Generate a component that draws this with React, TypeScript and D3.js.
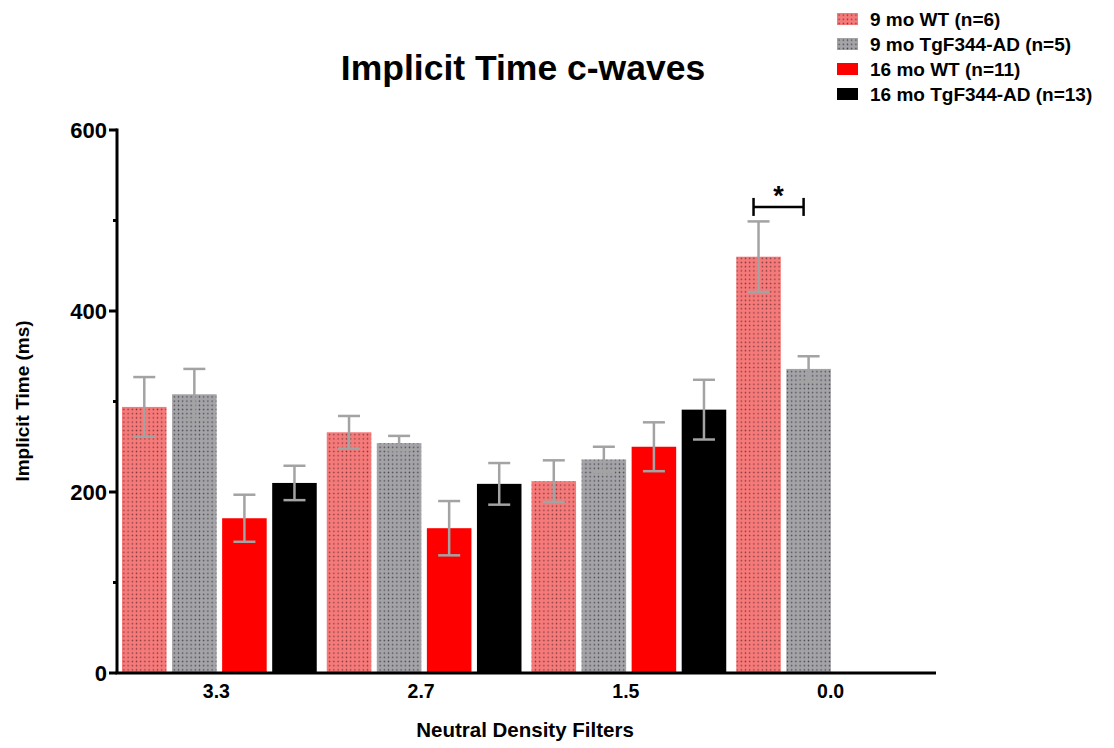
import React from "react";
import * as d3 from "d3";

const categories = ["3.3", "2.7", "1.5", "0.0"];
const seriesNames = [
  "9 mo WT (n=6)",
  "9 mo TgF344-AD (n=5)",
  "16 mo WT (n=11)",
  "16 mo TgF344-AD (n=13)",
];
const means: (number | null)[][] = [
  [294, 266, 212, 460],
  [308, 254, 236, 336],
  [171, 160, 250, null],
  [210, 209, 291, null],
];
const sems: (number | null)[][] = [
  [33, 18, 23, 39],
  [28, 8, 14, 14],
  [26, 30, 27, null],
  [19, 23, 33, null],
];
const yTicks = [0, 200, 400, 600];
const yMinorTicks = [100, 300, 500];
const sigBracket = { category: "0.0", from: 0, to: 1, y: 515, label: "*" };

const W = 1114;
const H = 748;
const FONT = "'Liberation Sans', Arial, Helvetica, sans-serif";

export default function App() {
  const x0 = d3.scaleBand<string>().domain(categories).range([117, 936]).paddingInner(0).paddingOuter(0);
  const x1 = d3
    .scaleBand<number>()
    .domain(d3.range(seriesNames.length))
    .range([0, x0.bandwidth()])
    .paddingInner(0.11)
    .paddingOuter(0.1);
  const y = d3.scaleLinear().domain([0, 600]).range([673, 130]);

  const fills = ["url(#pinkDots)", "url(#grayDots)", "#ff0000", "#000000"];
  const errColor = "#a3a3a3";
  const capHalf = 11;

  const bx = (ci: number, si: number) => (x0(categories[ci]) as number) + (x1(si) as number);

  const bracketX1 = bx(categories.indexOf(sigBracket.category), sigBracket.from) + x1.bandwidth() / 2 - 5;
  const bracketX2 = bx(categories.indexOf(sigBracket.category), sigBracket.to) + x1.bandwidth() / 2 - 5;

  return (
    <svg width={W} height={H} style={{ position: "absolute", left: 0, top: 0, background: "#fff" }} fontFamily={FONT}>
      <defs>
        <pattern id="pinkDots" width="4.2" height="4.2" patternUnits="userSpaceOnUse">
          <rect width="4.2" height="4.2" fill="#f67a7a" />
          <circle cx="2.1" cy="2.1" r="0.75" fill="#5a2a2a" opacity="0.8" />
        </pattern>
        <pattern id="grayDots" width="4.2" height="4.2" patternUnits="userSpaceOnUse">
          <rect width="4.2" height="4.2" fill="#a4a4a8" />
          <circle cx="2.1" cy="2.1" r="0.75" fill="#2e2e32" opacity="0.8" />
        </pattern>
      </defs>
      <rect width={W} height={H} fill="#fff" />

      {/* title */}
      <text x={523} y={80} textAnchor="middle" fontSize={35.5} fontWeight="bold" fill="#000">
        Implicit Time c-waves
      </text>

      {/* bars */}
      {means.map((row, si) =>
        row.map((v, ci) =>
          v == null ? null : (
            <rect
              key={`b${si}-${ci}`}
              x={bx(ci, si)}
              y={y(v)}
              width={x1.bandwidth()}
              height={y(0) - y(v)}
              fill={fills[si]}
            />
          )
        )
      )}

      {/* error bars */}
      {means.map((row, si) =>
        row.map((v, ci) => {
          const e = sems[si][ci];
          if (v == null || e == null) return null;
          const cx = bx(ci, si) + x1.bandwidth() / 2;
          return (
            <g key={`e${si}-${ci}`} stroke={errColor} strokeWidth={2.5}>
              <line x1={cx} x2={cx} y1={y(v + e)} y2={y(v - e)} />
              <line x1={cx - capHalf} x2={cx + capHalf} y1={y(v + e)} y2={y(v + e)} />
              <line x1={cx - capHalf} x2={cx + capHalf} y1={y(v - e)} y2={y(v - e)} />
            </g>
          );
        })
      )}

      {/* significance bracket */}
      <g stroke="#000" strokeWidth={2.5}>
        <line x1={bracketX1} x2={bracketX2} y1={y(sigBracket.y)} y2={y(sigBracket.y)} />
        <line x1={bracketX1} x2={bracketX1} y1={y(sigBracket.y) - 9} y2={y(sigBracket.y) + 9} />
        <line x1={bracketX2} x2={bracketX2} y1={y(sigBracket.y) - 9} y2={y(sigBracket.y) + 9} />
      </g>
      <text
        x={(bracketX1 + bracketX2) / 2}
        y={y(sigBracket.y) - 2}
        textAnchor="middle"
        fontSize={27}
        fontWeight="bold"
      >
        {sigBracket.label}
      </text>

      {/* y axis */}
      <line x1={117} x2={117} y1={y(600) - 1.5} y2={y(0)} stroke="#000" strokeWidth={3} />
      {yTicks.map((t) => (
        <g key={`yt${t}`}>
          <line x1={109} x2={117} y1={y(t)} y2={y(t)} stroke="#000" strokeWidth={3} />
          <text x={107} y={y(t) + 8} textAnchor="end" fontSize={22} fontWeight="bold">
            {t}
          </text>
        </g>
      ))}
      {yMinorTicks.map((t) => (
        <line key={`ym${t}`} x1={113} x2={117} y1={y(t)} y2={y(t)} stroke="#000" strokeWidth={3} />
      ))}

      {/* x axis */}
      <line x1={115.5} x2={936} y1={y(0)} y2={y(0)} stroke="#000" strokeWidth={3} />
      {categories.map((c) => (
        <text
          key={`xt${c}`}
          x={(x0(c) as number) + x0.bandwidth() / 2 - 3}
          y={698}
          textAnchor="middle"
          fontSize={19.5}
          fontWeight="bold"
        >
          {c}
        </text>
      ))}

      <text x={525} y={737} textAnchor="middle" fontSize={20.5} fontWeight="bold">
        Neutral Density Filters
      </text>
      <text
        transform={`translate(29, 401) rotate(-90)`}
        textAnchor="middle"
        fontSize={19}
        fontWeight="bold"
      >
        Implicit Time (ms)
      </text>

      {/* legend */}
      {seriesNames.map((name, i) => (
        <g key={`lg${i}`} transform={`translate(837, ${13 + i * 25})`}>
          <rect x={0} y={0} width={21} height={12} fill={fills[i]} />
          <text x={33} y={12.5} fontSize={19} fontWeight="bold">
            {name}
          </text>
        </g>
      ))}
    </svg>
  );
}
